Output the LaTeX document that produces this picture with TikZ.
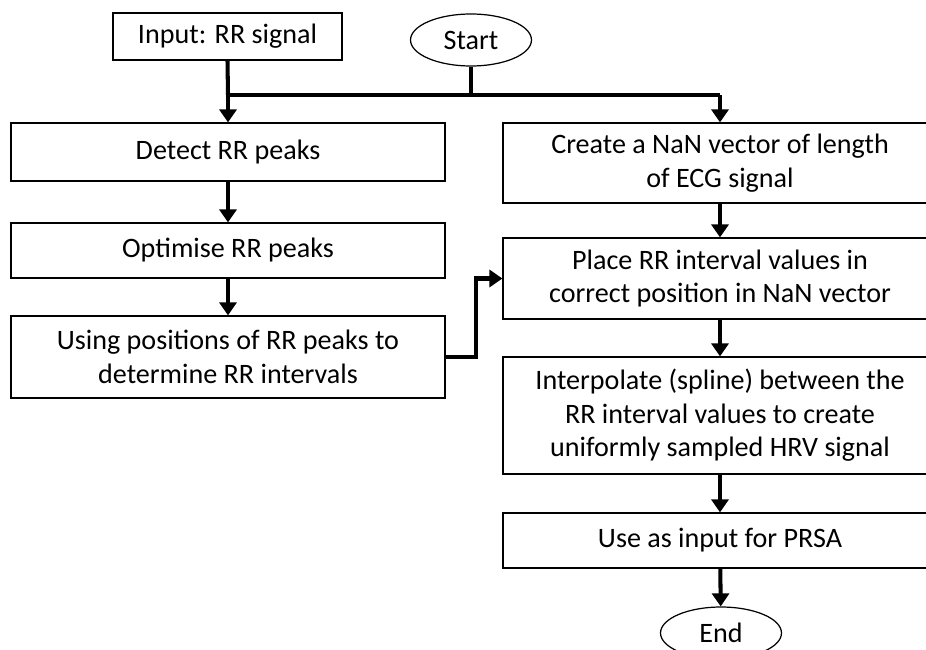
\documentclass[tikz,border=0pt]{standalone}
\usepackage{fontspec}
\setmainfont{Carlito}
\usetikzlibrary{arrows.meta,shapes.geometric}

\begin{document}
\begin{tikzpicture}[x=0.02cm,y=-0.02cm]
		\tikzset{every node/.style={align=center,
			font=\fontsize{16}{19}\selectfont}}
		\tikzset{box/.style = {shape=rectangle,draw,line width=0.7pt,inner sep=0pt,minimum width=8.68cm}}
		\tikzset{term/.style = {shape=ellipse,draw,line width=0.7pt,inner sep=0pt,minimum width=2.42cm,minimum height=1.04cm}}
		\tikzset{flow/.style = {line width=2.3pt,> = {Triangle[length=0.26cm,width=0.34cm]}}}
		\useasboundingbox (0,0) rectangle (926,649);
		% vertices
		\node[box,minimum width=4.58cm,minimum height=0.94cm] (inp) at (227.5,36.5) {Input: RR signal};
		\node[term] (start) at (471,40) {Start};
		\node[box,minimum height=1.16cm] (detect) at (228,152) {Detect RR peaks};
		\node[box,minimum height=1.10cm] (optim) at (228,250.5) {Optimise RR peaks};
		\node[box,minimum height=1.64cm] (using) at (228,357) {Using positions of RR peaks to\\determine RR intervals};
		\node[box,minimum height=1.60cm] (create) at (720,163) {Create a NaN vector of length\\of ECG signal};
		\node[box,minimum height=1.62cm] (place) at (720,278.5) {Place RR interval values in\\correct position in NaN vector};
		\node[box,minimum height=2.34cm] (interp) at (720,415.5) {Interpolate (spline) between the\\RR interval values to create\\uniformly sampled HRV signal};
		\node[box,minimum height=1.10cm] (use) at (720,540.5) {Use as input for PRSA};
		\node[term] (end) at (721,633) {End};

		\coordinate (jl) at (228,95);
		\coordinate (jr) at (720,95);
		\coordinate (js) at (471,95);

		%edges
		\draw[flow] (inp.south) -- (jl);
		\draw[flow] (start.south) -- (js);
		\draw[flow] (jl) -- (jr);
		\draw[flow,->] (jl) -- (detect.north);
		\draw[flow,->] (jr) -- (create.north);

		\draw[flow,->] (detect) -- (optim);
		\draw[flow,->] (optim) -- (using);
		\draw[flow,->] (using.east) -- ++(30,0) |- (place.west);

		\draw[flow,->] (create) -- (place);
		\draw[flow,->] (place) -- (interp);
		\draw[flow,->] (interp) -- (use);
		\draw[flow,->] (use) -- (end);
		\end{tikzpicture}
\end{document}
